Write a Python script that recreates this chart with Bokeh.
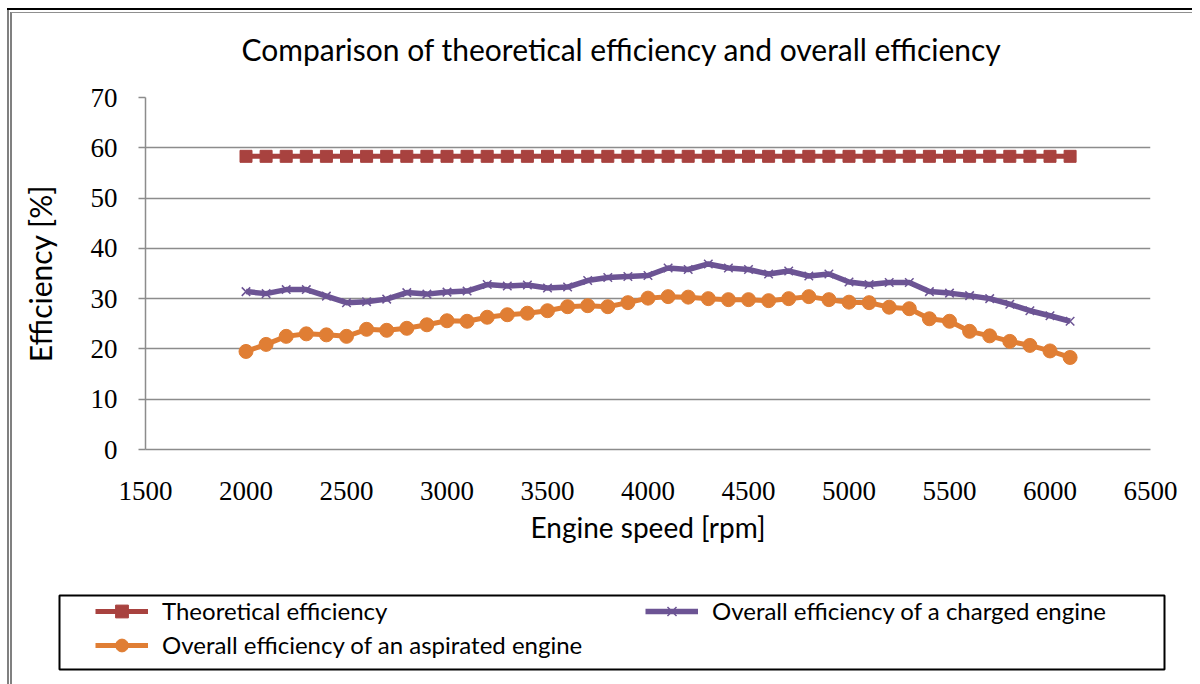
from bokeh.plotting import figure
from bokeh.models import FixedTicker, Range1d, Legend, LegendItem
from bokeh.embed import file_html
from bokeh.resources import INLINE

rpm = [2000, 2100, 2200, 2300, 2400, 2500, 2600, 2700, 2800, 2900,
       3000, 3100, 3200, 3300, 3400, 3500, 3600, 3700, 3800, 3900,
       4000, 4100, 4200, 4300, 4400, 4500, 4600, 4700, 4800, 4900,
       5000, 5100, 5200, 5300, 5400, 5500, 5600, 5700, 5800, 5900,
       6000, 6100]
theoretical = [58.3, 58.3, 58.3, 58.3, 58.3, 58.3, 58.3, 58.3, 58.3, 58.3,
               58.3, 58.3, 58.3, 58.3, 58.3, 58.3, 58.3, 58.3, 58.3, 58.3,
               58.3, 58.3, 58.3, 58.3, 58.3, 58.3, 58.3, 58.3, 58.3, 58.3,
               58.3, 58.3, 58.3, 58.3, 58.3, 58.3, 58.3, 58.3, 58.3, 58.3,
               58.3, 58.3]
charged = [31.4, 31.0, 31.8, 31.8, 30.5, 29.2, 29.4, 29.9, 31.2, 30.9,
           31.3, 31.5, 32.8, 32.5, 32.7, 32.1, 32.3, 33.6, 34.2, 34.4,
           34.6, 36.1, 35.8, 36.9, 36.1, 35.8, 34.9, 35.5, 34.5, 34.9,
           33.3, 32.8, 33.2, 33.2, 31.4, 31.1, 30.6, 30.0, 28.9, 27.6,
           26.6, 25.5]
aspirated = [19.5, 20.9, 22.5, 23.0, 22.8, 22.5, 23.9, 23.7, 24.1, 24.8,
             25.6, 25.5, 26.3, 26.8, 27.1, 27.6, 28.4, 28.6, 28.4, 29.2,
             30.1, 30.4, 30.3, 30.0, 29.8, 29.8, 29.6, 30.0, 30.4, 29.8,
             29.3, 29.2, 28.3, 28.0, 26.0, 25.5, 23.5, 22.6, 21.5, 20.7,
             19.6, 18.3]

x_ticks = [1500, 2000, 2500, 3000, 3500, 4000, 4500, 5000, 5500, 6000, 6500]
y_ticks = [0, 10, 20, 30, 40, 50, 60, 70]

title_text = "Comparison of theoretical efficiency and overall efficiency"
x_label = "Engine speed [rpm]"
y_label = "Efficiency [%]"
names = ["Theoretical efficiency", "Overall efficiency of a charged engine",
         "Overall efficiency of an aspirated engine"]

RED = "#A8423F"
PURPLE = "#6C5494"
ORANGE = "#E07E34"
GRID = "#8c8c8c"
SANS = "Lato"
SERIF = "Liberation Serif"

# page frame lines (outer chart-area border), drawn as CSS backgrounds
LEFT_LINES = ("linear-gradient(#808080,#808080) 7px 8px / 2px 100% no-repeat, "
              "linear-gradient(#808080,#808080) 10px 12px / 2px 100% no-repeat")
TOP_LINES = ("linear-gradient(#000,#000) 7px 8px / 100% 2px no-repeat, "
             "linear-gradient(#909090,#909090) 11px 12px / 100% 1px no-repeat, ")
LEFT_FULL = ("linear-gradient(#808080,#808080) 7px 0px / 2px 100% no-repeat, "
             "linear-gradient(#808080,#808080) 10px 0px / 2px 100% no-repeat")

p = figure(width=1192, height=590, output_backend="svg", toolbar_location=None,
           x_range=Range1d(1500, 6500), y_range=Range1d(0, 70),
           min_border_left=145, min_border_right=42, min_border_top=97,
           min_border_bottom=141, margin=(0, 0, 0, 0),
           styles={"background": TOP_LINES + LEFT_LINES})
p.outline_line_color = None
p.background_fill_color = "white"
p.border_fill_color = None

p.title.text = title_text
p.title.text_font = SANS
p.title.text_font_size = "30px"
p.title.text_font_style = "normal"
p.title.text_color = "black"
p.title.align = "left"
p.title.vertical_align = "top"
p.title.offset = 96
p.title.standoff = 58

p.xaxis.ticker = FixedTicker(ticks=x_ticks)
p.yaxis.ticker = FixedTicker(ticks=y_ticks)
for ax in (p.xaxis[0], p.yaxis[0]):
    ax.axis_line_color = GRID
    ax.axis_line_width = 1.5
    ax.major_tick_line_color = GRID
    ax.major_tick_line_width = 1.5
    ax.minor_tick_line_color = None
    ax.major_tick_in = 0
    ax.major_label_text_font = SERIF
    ax.major_label_text_font_size = "27px"
    ax.major_label_text_color = "black"
    ax.axis_label_text_font = SANS
    ax.axis_label_text_font_style = "normal"
    ax.axis_label_text_color = "black"
p.xaxis.major_tick_out = 0
p.xaxis.major_label_standoff = 32
p.xaxis.axis_label = x_label
p.xaxis.axis_label_text_font_size = "28px"
p.xaxis.axis_label_standoff = 7
p.yaxis.major_tick_out = 7
p.yaxis.major_label_standoff = 21
p.yaxis.axis_label = y_label
p.yaxis.axis_label_text_font_size = "30px"
p.yaxis.axis_label_standoff = 30

p.xgrid.grid_line_color = None
p.ygrid.grid_line_color = GRID
p.ygrid.grid_line_width = 1.5

p.line(rpm, theoretical, line_color=RED, line_width=5)
p.scatter(rpm, theoretical, marker="square", size=12, fill_color=RED, line_color=RED)
p.line(rpm, aspirated, line_color=ORANGE, line_width=5)
p.scatter(rpm, aspirated, marker="circle", size=14, fill_color=ORANGE, line_color=ORANGE)
p.line(rpm, charged, line_color=PURPLE, line_width=5.5)
p.scatter(rpm, charged, marker="x", size=12, line_color=PURPLE, line_width=1.5)

# legend box (separate root so its frame is not aligned with the chart frame)
lg = figure(width=1169, height=94, output_backend="svg", toolbar_location=None,
            x_axis_type=None, y_axis_type=None,
            x_range=Range1d(0, 1), y_range=Range1d(0, 1),
            min_border_left=59, min_border_right=5, min_border_top=5,
            min_border_bottom=15, margin=(0, 0, 0, 0),
            styles={"background": LEFT_FULL})
lg.grid.visible = False
lg.outline_line_color = "black"
lg.outline_line_width = 2
lg.background_fill_color = "white"
lg.border_fill_color = None

# legend samples: same series, kept outside this box's visible range
r_line = lg.line(rpm, theoretical, line_color=RED, line_width=5)
r_mark = lg.scatter(rpm, theoretical, marker="square", size=12, fill_color=RED, line_color=RED)
p_line = lg.line(rpm, charged, line_color=PURPLE, line_width=5.5)
p_mark = lg.scatter(rpm, charged, marker="x", size=12, line_color=PURPLE, line_width=1.5)
o_line = lg.line(rpm, aspirated, line_color=ORANGE, line_width=5)
o_mark = lg.scatter(rpm, aspirated, marker="circle", size=14, fill_color=ORANGE, line_color=ORANGE)

def make_legend(items, loc):
    leg = Legend(items=items, location=loc, orientation="vertical")
    leg.border_line_color = None
    leg.background_fill_alpha = 0
    leg.padding = 0
    leg.margin = 0
    leg.spacing = 2
    leg.glyph_width = 53
    leg.glyph_height = 32
    leg.label_height = 30
    leg.label_standoff = 14
    leg.label_text_font = SANS
    leg.label_text_font_size = "24px"
    leg.label_text_color = "black"
    return leg

leg_a = make_legend([LegendItem(label=names[0], renderers=[r_line, r_mark]),
                     LegendItem(label=names[2], renderers=[o_line, o_mark])], (36, 8.5))
leg_b = make_legend([LegendItem(label=names[1], renderers=[p_line, p_mark])], (586, 42.5))
lg.add_layout(leg_a)
lg.add_layout(leg_b)

open("out.html", "w").write(file_html([p, lg], INLINE))
